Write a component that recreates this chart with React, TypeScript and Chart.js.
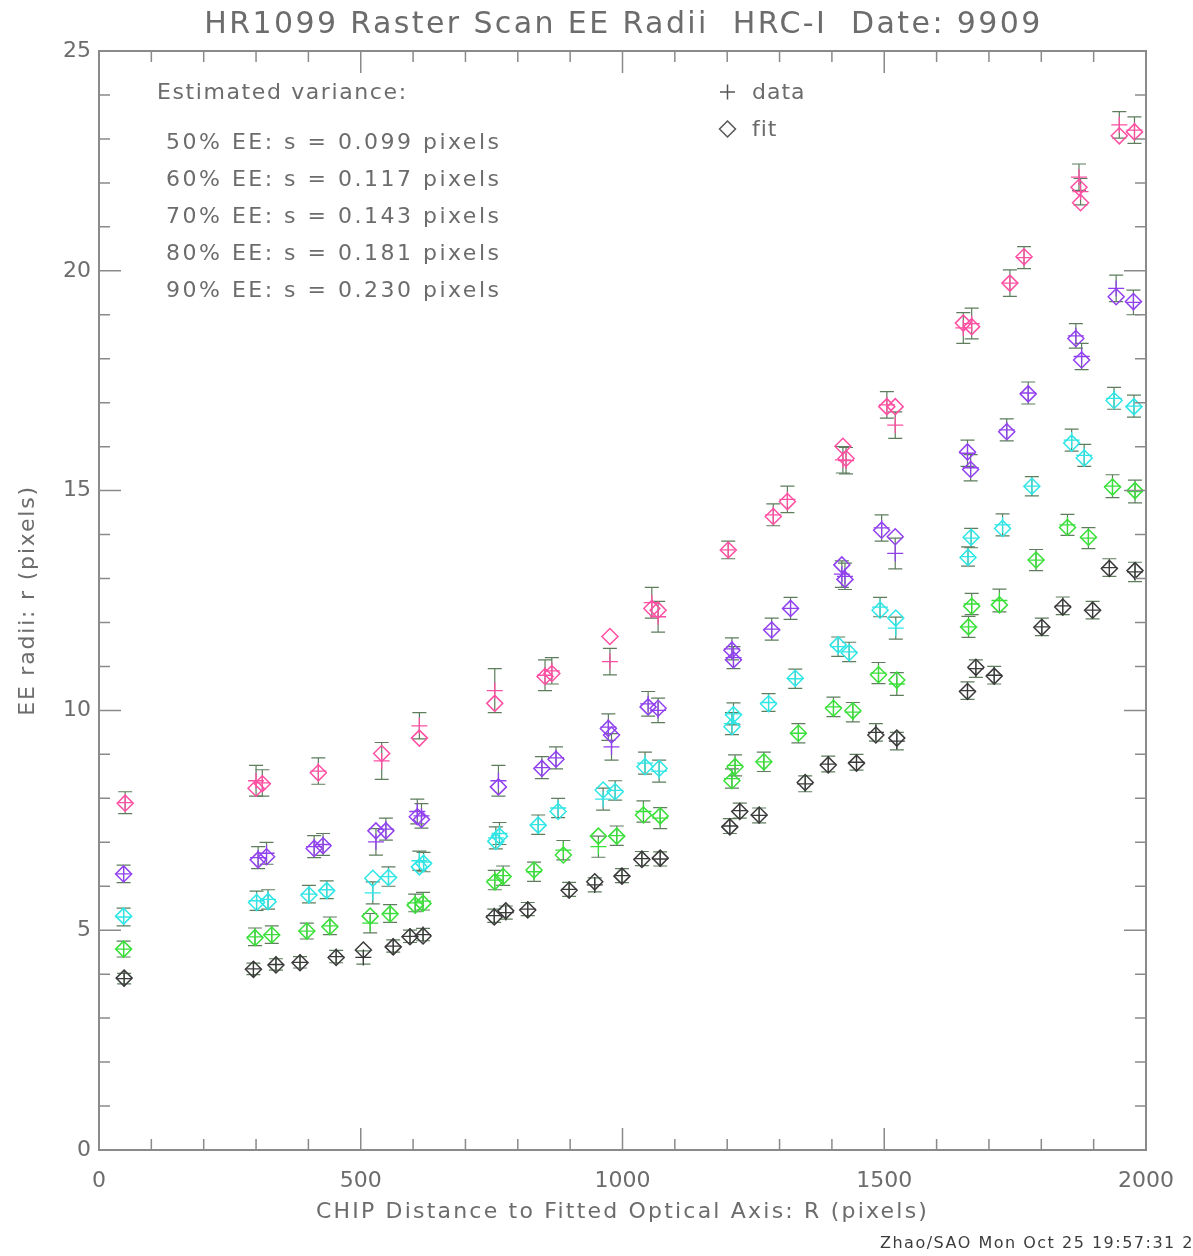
import React, { useEffect, useRef } from "react";
import { Chart, registerables } from "chart.js";

Chart.register(...registerables);

// ---------- text ----------
const TITLE = "HR1099 Raster Scan EE Radii  HRC-I  Date: 9909";
const X_TITLE = "CHIP Distance to Fitted Optical Axis: R (pixels)";
const Y_TITLE = "EE radii: r (pixels)";
const FOOTER = "Zhao/SAO Mon Oct 25 19:57:31 2004";
const VAR_HEADER = "Estimated variance:";
const EE_LEVELS = ["50%", "60%", "70%", "80%", "90%"];
const EE_SIGMA = ["0.099", "0.117", "0.143", "0.181", "0.230"];
const LEGEND_LABELS = ["data", "fit"];

// ---------- axes ----------
const X_MIN = 0;
const X_MAX = 2000;
const X_MAJOR = 500;
const X_MINOR = 100;
const Y_MIN = 0;
const Y_MAX = 25;
const Y_MAJOR = 5;
const Y_MINOR = 1;

// ---------- data : 50% EE (black) ----------
const R50 = [48, 295, 338, 384, 453, 505, 562, 594, 619, 755, 777, 819, 898, 947, 999, 1037, 1072, 1205, 1224, 1261, 1349, 1393, 1447, 1484, 1524, 1659, 1675, 1710, 1801, 1841, 1898, 1930, 1979];
const FIT50 = [3.91, 4.11, 4.21, 4.26, 4.38, 4.55, 4.62, 4.85, 4.87, 5.3, 5.44, 5.46, 5.91, 6.1, 6.23, 6.61, 6.64, 7.35, 7.7, 7.62, 8.36, 8.76, 8.8, 9.44, 9.37, 10.43, 10.98, 10.78, 11.89, 12.35, 12.28, 13.23, 13.18];
const DATA50 = [3.9, 4.12, 4.22, 4.27, 4.4, 4.38, 4.64, 4.86, 4.9, 5.33, 5.4, 5.48, 5.93, 6.03, 6.24, 6.63, 6.62, 7.37, 7.72, 7.61, 8.33, 8.78, 8.82, 9.5, 9.3, 10.45, 10.95, 10.8, 11.9, 12.38, 12.28, 13.25, 13.15];
const ERR50 = [0.12, 0.13, 0.13, 0.13, 0.14, 0.15, 0.14, 0.14, 0.14, 0.15, 0.15, 0.15, 0.16, 0.16, 0.16, 0.16, 0.16, 0.17, 0.17, 0.17, 0.18, 0.18, 0.18, 0.2, 0.2, 0.2, 0.2, 0.2, 0.2, 0.2, 0.2, 0.2, 0.22];

// ---------- data : 60% EE (green) ----------
const R60 = [47, 298, 330, 397, 441, 518, 556, 604, 619, 756, 772, 831, 887, 954, 989, 1040, 1072, 1209, 1215, 1270, 1336, 1403, 1440, 1489, 1524, 1661, 1667, 1720, 1790, 1850, 1890, 1936, 1979];
const FIT60 = [4.57, 4.83, 4.89, 4.98, 5.08, 5.32, 5.37, 5.57, 5.61, 6.1, 6.22, 6.37, 6.71, 7.14, 7.14, 7.62, 7.6, 8.4, 8.72, 8.83, 9.48, 10.05, 9.99, 10.81, 10.69, 11.9, 12.37, 12.4, 13.42, 14.16, 13.94, 15.08, 15.0];
const DATA60 = [4.57, 4.85, 4.9, 4.98, 5.1, 5.16, 5.38, 5.62, 5.66, 6.14, 6.24, 6.33, 6.82, 6.9, 7.15, 7.7, 7.55, 8.45, 8.75, 8.83, 9.48, 10.08, 9.96, 10.85, 10.6, 11.9, 12.42, 12.5, 13.42, 14.22, 13.92, 15.1, 14.98];
const ERR60 = [0.18, 0.2, 0.2, 0.18, 0.2, 0.22, 0.2, 0.2, 0.2, 0.22, 0.22, 0.22, 0.22, 0.24, 0.22, 0.24, 0.24, 0.22, 0.24, 0.22, 0.22, 0.22, 0.22, 0.24, 0.26, 0.24, 0.24, 0.26, 0.24, 0.24, 0.24, 0.26, 0.26];

// ---------- data : 70% EE (cyan) ----------
const R70 = [47, 301, 323, 401, 435, 523, 553, 612, 620, 758, 765, 839, 877, 963, 986, 1043, 1070, 1209, 1212, 1279, 1330, 1412, 1433, 1492, 1522, 1660, 1666, 1726, 1782, 1858, 1882, 1939, 1977];
const FIT70 = [5.32, 5.63, 5.65, 5.8, 5.9, 6.18, 6.2, 6.44, 6.52, 7.02, 7.14, 7.39, 7.7, 8.19, 8.15, 8.72, 8.68, 9.63, 9.9, 10.15, 10.73, 11.49, 11.31, 12.28, 12.1, 13.48, 13.94, 14.14, 15.1, 16.08, 15.74, 17.05, 16.91];
const DATA70 = [5.3, 5.67, 5.7, 5.82, 5.92, 5.85, 6.22, 6.58, 6.55, 7.1, 7.2, 7.4, 7.78, 7.98, 8.18, 8.8, 8.62, 9.7, 9.92, 10.18, 10.72, 11.45, 11.33, 12.35, 11.87, 13.5, 13.92, 14.22, 15.1, 16.15, 15.8, 17.1, 16.92];
const ERR70 = [0.2, 0.22, 0.22, 0.2, 0.2, 0.25, 0.22, 0.22, 0.22, 0.25, 0.25, 0.22, 0.22, 0.25, 0.22, 0.25, 0.25, 0.25, 0.25, 0.2, 0.22, 0.22, 0.22, 0.22, 0.25, 0.22, 0.22, 0.25, 0.22, 0.25, 0.25, 0.25, 0.25];

// ---------- data : 80% EE (purple) ----------
const R80 = [47, 304, 320, 411, 428, 529, 548, 608, 616, 763, 846, 873, 973, 979, 1049, 1068, 1209, 1212, 1285, 1321, 1419, 1425, 1495, 1521, 1659, 1665, 1734, 1775, 1866, 1877, 1943, 1976];
const FIT80 = [6.28, 6.6, 6.67, 6.86, 6.92, 7.26, 7.26, 7.58, 7.52, 8.26, 8.68, 8.89, 9.59, 9.44, 10.08, 10.05, 11.37, 11.15, 11.83, 12.32, 13.31, 12.98, 14.1, 13.95, 15.88, 15.48, 16.34, 17.2, 18.46, 17.97, 19.41, 19.3];
const DATA80 = [6.28, 6.65, 6.75, 6.9, 6.95, 7.01, 7.3, 7.7, 7.6, 8.4, 8.7, 8.92, 9.62, 9.17, 10.15, 10.0, 11.4, 11.2, 11.85, 12.32, 13.1, 13.05, 14.15, 13.57, 15.85, 15.52, 16.38, 17.22, 18.52, 18.05, 19.6, 19.28];
const ERR80 = [0.2, 0.25, 0.25, 0.25, 0.25, 0.3, 0.25, 0.28, 0.28, 0.35, 0.25, 0.25, 0.3, 0.3, 0.28, 0.28, 0.25, 0.25, 0.25, 0.25, 0.3, 0.3, 0.3, 0.35, 0.3, 0.3, 0.25, 0.25, 0.28, 0.3, 0.3, 0.28];

// ---------- data : 90% EE (pink) ----------
const R90 = [50, 300, 312, 419, 540, 612, 756, 852, 865, 976, 1056, 1068, 1202, 1288, 1315, 1421, 1427, 1505, 1521, 1651, 1667, 1740, 1767, 1872, 1875, 1949, 1978];
const FIT90 = [7.89, 8.23, 8.33, 8.58, 9.02, 9.37, 10.16, 10.77, 10.84, 11.68, 12.32, 12.28, 13.65, 14.41, 14.75, 16.01, 15.73, 16.91, 16.91, 18.81, 18.73, 19.72, 20.32, 21.9, 21.55, 23.07, 23.16];
const DATA90 = [7.9, 8.4, 8.35, 8.62, 8.85, 9.65, 10.45, 10.8, 10.9, 11.11, 12.45, 12.13, 13.65, 14.45, 14.8, 15.7, 15.68, 16.95, 16.49, 18.7, 18.8, 19.72, 20.3, 22.13, 21.8, 23.32, 23.2];
const ERR90 = [0.25, 0.35, 0.3, 0.3, 0.42, 0.3, 0.5, 0.35, 0.3, 0.3, 0.35, 0.35, 0.2, 0.25, 0.3, 0.3, 0.3, 0.3, 0.3, 0.35, 0.35, 0.3, 0.25, 0.3, 0.3, 0.3, 0.3];

// ---------- styles ----------
const COLORS = ["#3a3a3a", "#38e038", "#2ee6e6", "#9140f0", "#ff4fa3"];
const ERR_COLOR = "#5d7d5d";
const AXIS_COLOR = "#8a8a8a";
const TEXT_COLOR = "#6c6c6c";
const FONT = "'DejaVu Sans', sans-serif";

const SERIES = [
  { r: R50, fit: FIT50, data: DATA50, err: ERR50 },
  { r: R60, fit: FIT60, data: DATA60, err: ERR60 },
  { r: R70, fit: FIT70, data: DATA70, err: ERR70 },
  { r: R80, fit: FIT80, data: DATA80, err: ERR80 },
  { r: R90, fit: FIT90, data: DATA90, err: ERR90 },
];

const W = 1193;
const H = 1256;

function spaced(ctx: any, text: string, x: number, y: number, spacing: number) {
  ctx.letterSpacing = `${spacing}px`;
  ctx.fillText(text, x, y);
  ctx.letterSpacing = "0px";
}

const idlPlugin = {
  id: "idlDecor",
  beforeDatasetsDraw(chart: any) {
    const { ctx, scales } = chart;
    const xs = scales.x;
    const ys = scales.y;
    ctx.save();
    ctx.strokeStyle = ERR_COLOR;
    ctx.lineWidth = 1.2;
    chart.data.datasets.forEach((ds: any) => {
      if (!ds.errorValues) return;
      ds.data.forEach((p: any, i: number) => {
        const e = ds.errorValues[i];
        const px = xs.getPixelForValue(p.x);
        const top = ys.getPixelForValue(p.y + e);
        const bot = ys.getPixelForValue(p.y - e);
        ctx.beginPath();
        ctx.moveTo(px, top);
        ctx.lineTo(px, bot);
        ctx.moveTo(px - 7, top);
        ctx.lineTo(px + 7, top);
        ctx.moveTo(px - 7, bot);
        ctx.lineTo(px + 7, bot);
        ctx.stroke();
      });
    });
    ctx.restore();
  },
  afterDraw(chart: any) {
    const { ctx, scales, chartArea } = chart;
    const xs = scales.x;
    const ys = scales.y;
    const { left, right, top, bottom } = chartArea;
    ctx.save();
    // inward ticks on all four sides
    ctx.strokeStyle = AXIS_COLOR;
    ctx.lineWidth = 1.5;
    ctx.beginPath();
    for (let v = X_MIN; v <= X_MAX; v += X_MINOR) {
      const len = v % X_MAJOR === 0 ? 22 : 11;
      const px = xs.getPixelForValue(v);
      ctx.moveTo(px, bottom);
      ctx.lineTo(px, bottom - len);
      ctx.moveTo(px, top);
      ctx.lineTo(px, top + len);
    }
    for (let v = Y_MIN; v <= Y_MAX; v += Y_MINOR) {
      const len = v % Y_MAJOR === 0 ? 22 : 11;
      const py = ys.getPixelForValue(v);
      ctx.moveTo(left, py);
      ctx.lineTo(left + len, py);
      ctx.moveTo(right, py);
      ctx.lineTo(right - len, py);
    }
    ctx.stroke();

    ctx.fillStyle = TEXT_COLOR;
    ctx.textBaseline = "middle";
    // title
    ctx.textAlign = "center";
    ctx.font = `30px ${FONT}`;
    spaced(ctx, TITLE, (left + right) / 2 + 1, 25, 2.4);
    // x title
    ctx.font = `22px ${FONT}`;
    spaced(ctx, X_TITLE, (left + right) / 2, 1212, 2.2);
    // y title
    ctx.save();
    ctx.translate(28, (top + bottom) / 2);
    ctx.rotate(-Math.PI / 2);
    spaced(ctx, Y_TITLE, 0, 0, 1.8);
    ctx.restore();
    // variance notes
    ctx.textAlign = "left";
    ctx.font = `22px ${FONT}`;
    spaced(ctx, VAR_HEADER, 157, 93, 1.6);
    EE_LEVELS.forEach((lvl, i) => {
      spaced(ctx, `${lvl} EE: s = ${EE_SIGMA[i]} pixels`, 166, 143 + i * 37, 2.5);
    });
    // legend
    spaced(ctx, LEGEND_LABELS[0], 752, 93, 1);
    spaced(ctx, LEGEND_LABELS[1], 752, 130, 1);
    ctx.strokeStyle = "#555555";
    ctx.lineWidth = 1.5;
    ctx.beginPath();
    ctx.moveTo(720, 92);
    ctx.lineTo(735, 92);
    ctx.moveTo(727.5, 84.5);
    ctx.lineTo(727.5, 99.5);
    ctx.moveTo(727.5, 121);
    ctx.lineTo(735.5, 129);
    ctx.lineTo(727.5, 137);
    ctx.lineTo(719.5, 129);
    ctx.closePath();
    ctx.stroke();
    // footer
    ctx.fillStyle = "#3c3c3c";
    ctx.font = `16px ${FONT}`;
    spaced(ctx, FOOTER, 880, 1244, 1.5);
    ctx.restore();
  },
};

export default function App() {
  const ref = useRef<HTMLCanvasElement | null>(null);
  useEffect(() => {
    if (!ref.current) return;
    const datasets: any[] = [];
    SERIES.forEach((s, k) => {
      datasets.push({
        label: `${EE_LEVELS[k]} data`,
        data: s.r.map((x, i) => ({ x, y: s.data[i] })),
        errorValues: s.err,
        pointStyle: "cross",
        pointRadius: 8,
        borderColor: COLORS[k],
        backgroundColor: COLORS[k],
        borderWidth: 1.3,
        showLine: false,
        order: 2,
      });
      datasets.push({
        label: `${EE_LEVELS[k]} fit`,
        data: s.r.map((x, i) => ({ x, y: s.fit[i] })),
        pointStyle: "rectRot",
        pointRadius: 8,
        borderColor: COLORS[k],
        backgroundColor: "rgba(0,0,0,0)",
        borderWidth: 1.5,
        showLine: false,
        order: 1,
      });
    });
    const commonGrid = { display: false, drawTicks: false };
    const border = { display: true, color: AXIS_COLOR, width: 2 };
    const chart = new Chart(ref.current, {
      type: "scatter",
      data: { datasets },
      options: {
        responsive: false,
        animation: false,
        layout: { padding: 0 },
        plugins: { legend: { display: false }, tooltip: { enabled: false }, title: { display: false } },
        scales: {
          x: {
            type: "linear",
            position: "bottom",
            min: X_MIN,
            max: X_MAX,
            afterFit: (s: any) => { s.height = 106; },
            grid: commonGrid,
            border,
            ticks: {
              stepSize: X_MAJOR,
              color: TEXT_COLOR,
              font: { family: FONT, size: 22 },
              padding: 18,
              maxRotation: 0,
              autoSkip: false,
              callback: (v: any) => String(v),
            },
          },
          x2: {
            type: "linear",
            position: "top",
            min: X_MIN,
            max: X_MAX,
            afterFit: (s: any) => { s.height = 51; },
            grid: commonGrid,
            border,
            ticks: { display: false },
          },
          y: {
            type: "linear",
            position: "left",
            min: Y_MIN,
            max: Y_MAX,
            afterFit: (s: any) => { s.width = 99; },
            grid: commonGrid,
            border,
            ticks: {
              stepSize: Y_MAJOR,
              color: TEXT_COLOR,
              font: { family: FONT, size: 22 },
              padding: 8,
              callback: (v: any) => String(v),
            },
          },
          y2: {
            type: "linear",
            position: "right",
            min: Y_MIN,
            max: Y_MAX,
            afterFit: (s: any) => { s.width = 47; },
            grid: commonGrid,
            border,
            ticks: { display: false },
          },
        },
      } as any,
      plugins: [idlPlugin],
    });
    return () => chart.destroy();
  }, []);
  return (
    <div style={{ position: "absolute", left: 0, top: 0, width: W, height: H, background: "#fff" }}>
      <canvas ref={ref} width={W} height={H} style={{ width: W, height: H, display: "block" }} />
    </div>
  );
}
